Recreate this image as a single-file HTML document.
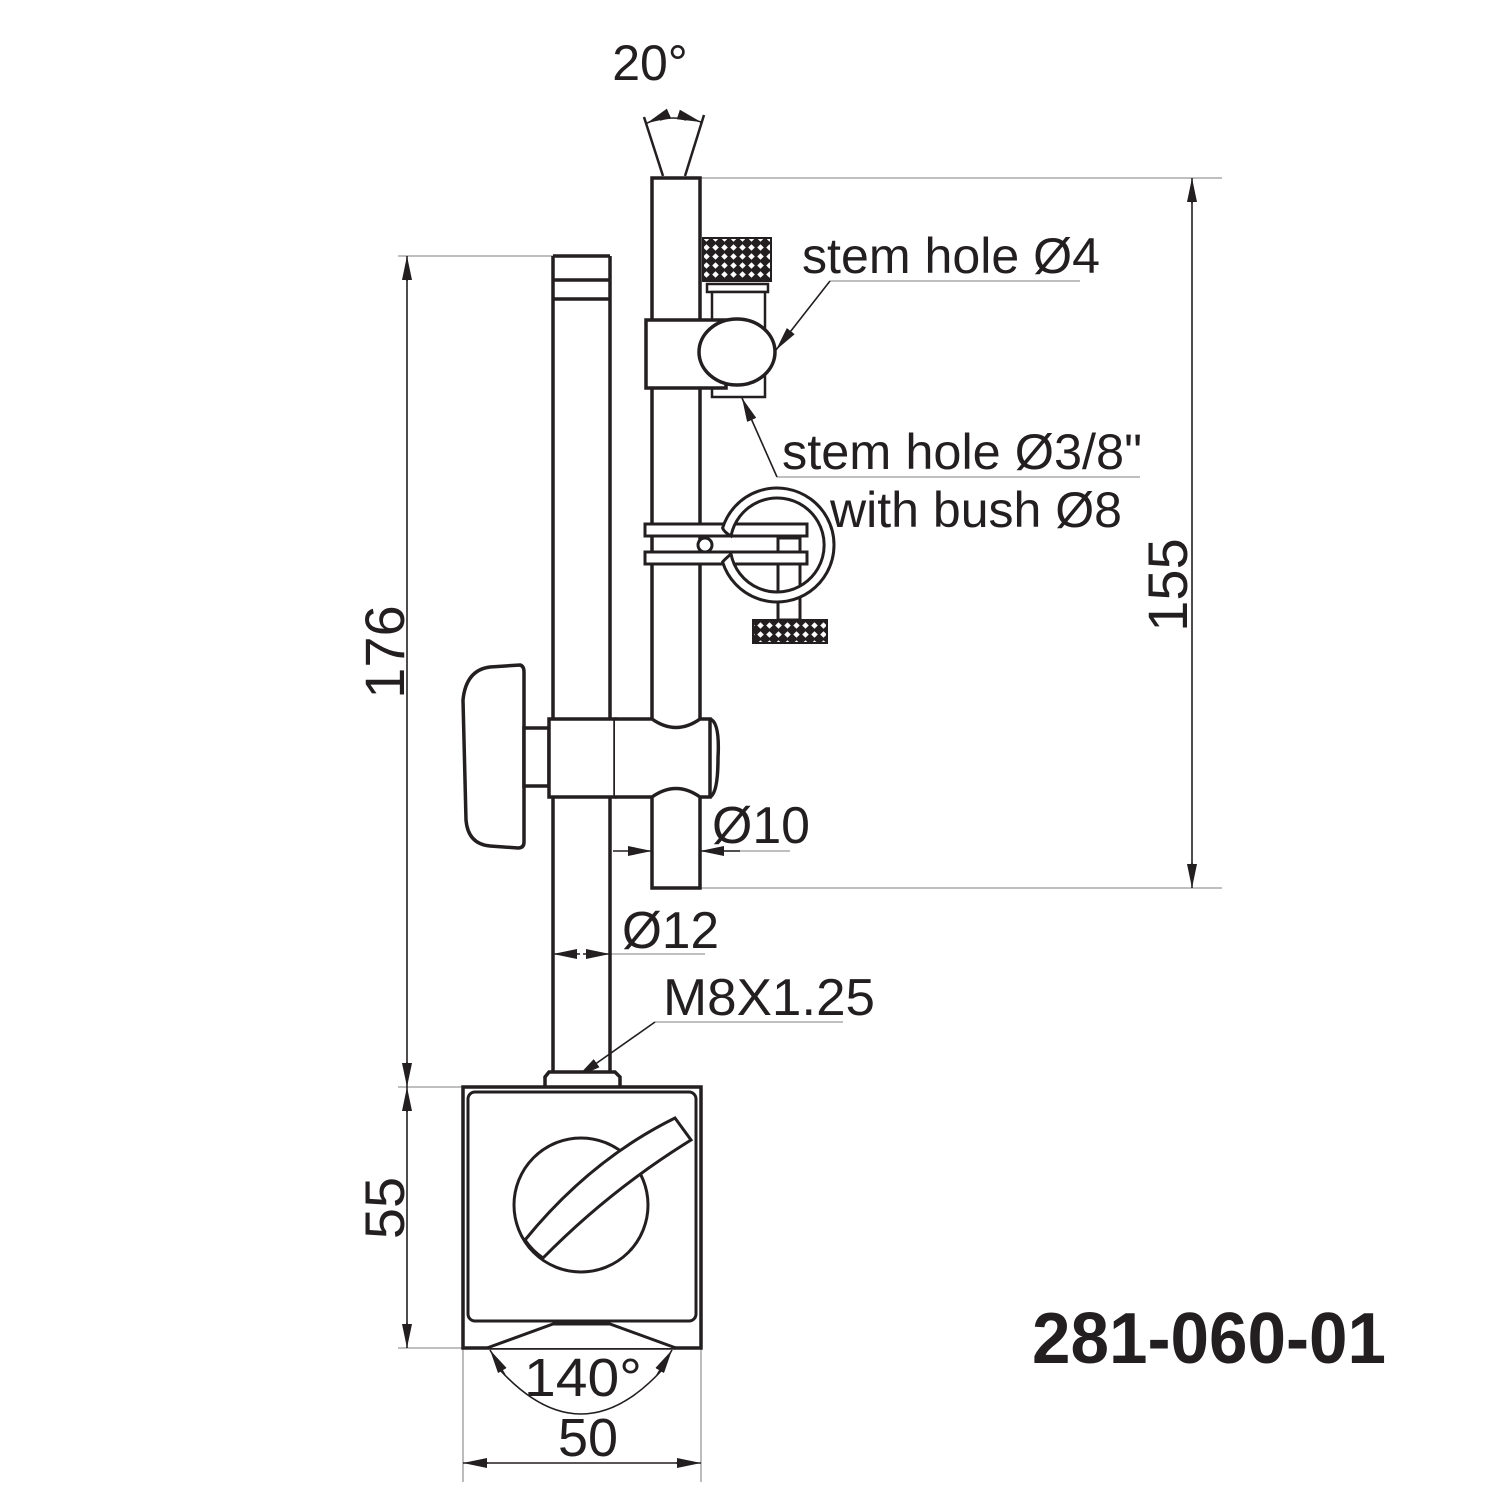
<!DOCTYPE html>
<html><head><meta charset="utf-8"><style>
html,body{margin:0;padding:0;background:#fff;}
svg{display:block;}
text{font-family:"Liberation Sans",sans-serif;fill:#231f20;}
</style></head><body>
<svg width="1500" height="1500" viewBox="0 0 1500 1500" xmlns="http://www.w3.org/2000/svg">
<defs>
<pattern id="kn" width="9" height="9" patternUnits="userSpaceOnUse">
<rect width="9" height="9" fill="#231f20"/>
<path d="M4.5 1.2 L7.8 4.5 L4.5 7.8 L1.2 4.5Z" fill="#fff"/>
</pattern>
<marker id="ar" viewBox="0 0 24 10" refX="24" refY="5" markerWidth="24" markerHeight="10" markerUnits="userSpaceOnUse" orient="auto">
<path d="M0 0 L24 5 L0 10 Z" fill="#231f20"/>
</marker>
</defs>
<g fill="none" stroke="#231f20" stroke-width="3.5">

<g stroke="#999" stroke-width="1.3">
<line x1="398" y1="256" x2="553" y2="256"/>
<line x1="398" y1="1087" x2="463" y2="1087"/>
<line x1="398" y1="1348" x2="463" y2="1348"/>
<line x1="700" y1="178" x2="1222" y2="178"/>
<line x1="700" y1="888" x2="1222" y2="888"/>
<line x1="463" y1="1348" x2="463" y2="1482"/>
<line x1="701" y1="1348" x2="701" y2="1482"/>
<line x1="830" y1="281" x2="1080" y2="281"/>
<line x1="777" y1="477" x2="1140" y2="477"/>
<line x1="655" y1="1022" x2="843" y2="1022"/>
<line x1="700" y1="851" x2="790" y2="851"/>
<line x1="610" y1="954" x2="705" y2="954"/>
</g>

<g stroke-width="1.6">
<line x1="407" y1="276" x2="407" y2="1067"/>
<line x1="407" y1="1062" x2="407" y2="1087" marker-end="url(#ar)"/>
<line x1="407" y1="281" x2="407" y2="256" marker-end="url(#ar)"/>
<line x1="407" y1="1112" x2="407" y2="1087" marker-end="url(#ar)"/>
<line x1="407" y1="1323" x2="407" y2="1348" marker-end="url(#ar)"/>
<line x1="407" y1="1100" x2="407" y2="1335"/>
<line x1="1192" y1="190" x2="1192" y2="880"/>
<line x1="1192" y1="203" x2="1192" y2="178" marker-end="url(#ar)"/>
<line x1="1192" y1="863" x2="1192" y2="888" marker-end="url(#ar)"/>
<line x1="480" y1="1463" x2="690" y2="1463"/>
<line x1="488" y1="1463" x2="463" y2="1463" marker-end="url(#ar)"/>
<line x1="676" y1="1463" x2="701" y2="1463" marker-end="url(#ar)"/>
<line x1="613" y1="851" x2="652" y2="851" marker-end="url(#ar)"/>
<line x1="740" y1="851" x2="700" y2="851" marker-end="url(#ar)"/>
<line x1="580" y1="954" x2="553" y2="954" marker-end="url(#ar)"/>
<line x1="583" y1="954" x2="610" y2="954" marker-end="url(#ar)"/>
<line x1="830" y1="281" x2="776" y2="350" marker-end="url(#ar)"/>
<line x1="777" y1="477" x2="742" y2="398" marker-end="url(#ar)"/>
<line x1="655" y1="1022" x2="577" y2="1077" marker-end="url(#ar)"/>
<line x1="644" y1="117" x2="663" y2="176" stroke-width="2.5"/>
<line x1="704" y1="115" x2="685" y2="176" stroke-width="2.5"/>
<path d="M660 120 Q 673 116 686 120"/>
<path d="M670 118 Q 656 119 647 123" marker-end="url(#ar)"/>
<path d="M678 118 Q 692 119 701 122" marker-end="url(#ar)"/>
<path d="M500 1370 Q 581 1458 662 1370"/>
<line x1="505" y1="1375" x2="490" y2="1350" marker-end="url(#ar)"/>
<line x1="657" y1="1375" x2="672" y2="1350" marker-end="url(#ar)"/>
</g>

<line x1="553" y1="256" x2="553" y2="719"/>
<line x1="610" y1="256" x2="610" y2="719"/>
<line x1="553" y1="797" x2="553" y2="1073"/>
<line x1="610" y1="797" x2="610" y2="1073"/>
<line x1="553" y1="256" x2="610" y2="256"/>
<line x1="553" y1="280" x2="610" y2="280"/>
<line x1="553" y1="299" x2="610" y2="299"/>

<rect x="652" y="178" width="48" height="710" fill="#fff"/>

<rect x="703" y="238" width="68" height="43" fill="url(#kn)" stroke-width="2"/>
<rect x="707" y="284" width="61" height="8" fill="#fff" stroke-width="2.5"/>
<rect x="712" y="292" width="53" height="105" fill="#fff" stroke-width="2.5"/>
<rect x="646" y="320" width="80" height="68" fill="#fff"/>
<ellipse cx="737" cy="352" rx="38" ry="33" fill="#fff"/>

<rect x="778" y="538" width="22" height="82" fill="#fff" stroke-width="3"/>
<rect x="645" y="524" width="162" height="12" fill="#fff" stroke-width="3"/>
<rect x="645" y="552" width="162" height="12" fill="#fff" stroke-width="3"/>
<path d="M731 536 A47 47 0 1 1 731 554 Q 724 560 722.6 562 A57 57 0 1 0 722.6 528 Q 724 532 731 536 Z" fill="#fff" stroke-width="3"/>
<circle cx="705" cy="545" r="7" fill="#fff" stroke-width="3"/>
<rect x="753" y="620" width="74" height="23" fill="url(#kn)" stroke-width="2"/>

<path d="M463 700 Q 466 670 490 667 L 520 665 Q 524 666 524 672 L524 842 Q 524 848 518 848 L 490 846 Q 468 844 466 820 Z" fill="#fff"/>
<rect x="524" y="728" width="25" height="58" fill="#fff"/>
<rect x="549" y="719" width="66" height="78" fill="#fff"/>
<line x1="620" y1="719" x2="620" y2="797" stroke-width="3"/>
<path d="M615 719 L652 719 Q 676 736 700 719 L710 719 L710 797 L700 797 Q 676 780 652 797 L615 797" fill="#fff"/>
<path d="M710 719 Q 720 722 718 758 Q 718 793 710 797"/>

<path d="M545 1087 L545 1077 L549 1072 L615 1072 L620 1077 L620 1087" fill="#fff"/>
<rect x="463" y="1087" width="238" height="261" fill="#fff"/>
<rect x="468" y="1092" width="228" height="229" rx="7" stroke-width="3"/>
<path d="M487 1348 L553 1324 L610 1324 L676 1348" fill="#fff" stroke-width="3"/>
<circle cx="581" cy="1205" r="67" fill="#fff" stroke-width="3"/>
<path d="M525 1240 Q 590 1160 675 1118 L691 1140 Q 610 1190 543 1258 A67 67 0 0 1 525 1240 Z" fill="#fff" stroke-width="3"/>
</g>

<text x="650" y="80" font-size="50" text-anchor="middle">20°</text>
<text x="802" y="273" font-size="50" textLength="298" lengthAdjust="spacingAndGlyphs">stem hole Ø4</text>
<text x="782" y="469" font-size="50" textLength="360" lengthAdjust="spacingAndGlyphs">stem hole Ø3/8"</text>
<text x="830" y="527" font-size="50" textLength="292" lengthAdjust="spacingAndGlyphs">with bush Ø8</text>
<text x="712" y="843" font-size="52" textLength="98" lengthAdjust="spacingAndGlyphs">Ø10</text>
<text x="622" y="948" font-size="52" textLength="97" lengthAdjust="spacingAndGlyphs">Ø12</text>
<text x="663" y="1015" font-size="52" textLength="212" lengthAdjust="spacingAndGlyphs">M8X1.25</text>
<text x="583" y="1396" font-size="54" text-anchor="middle" textLength="118" lengthAdjust="spacingAndGlyphs">140°</text>
<text x="588" y="1456" font-size="54" text-anchor="middle">50</text>
<text transform="translate(404,652) rotate(-90)" font-size="56" text-anchor="middle">176</text>
<text transform="translate(404,1208) rotate(-90)" font-size="56" text-anchor="middle">55</text>
<text transform="translate(1187,585) rotate(-90)" font-size="56" text-anchor="middle">155</text>
<text x="1032" y="1363" font-size="72" font-weight="bold" textLength="354" lengthAdjust="spacingAndGlyphs">281-060-01</text>
</svg>
</body></html>
